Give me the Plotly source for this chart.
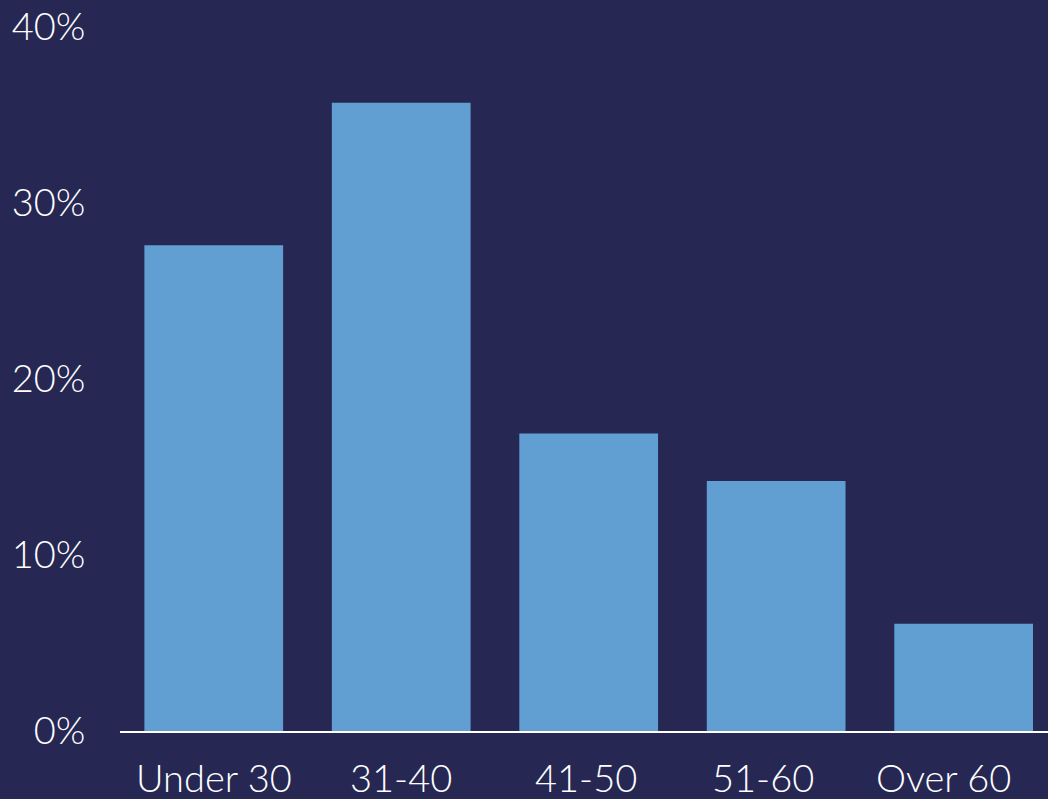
import plotly.graph_objects as go

categories = ["Under 30", "31-40", "41-50", "51-60", "Over 60"]
shares = [27.6, 35.7, 16.9, 14.2, 6.1]
y_ticks = [0, 10, 20, 30, 40]

BG = "#262853"
BAR = "#619ED2"
TXT = "#FFFFFF"
FONT = "Lato, 'Noto Sans', sans-serif"
FS = 38
label_xshift = [0, 0, -3, -13, -20]

fig = go.Figure(
    go.Bar(
        x=categories,
        y=shares,
        marker=dict(color=BAR, line=dict(width=0)),
        hoverinfo="skip",
    )
)

fig.update_layout(
    width=1048,
    height=799,
    paper_bgcolor=BG,
    plot_bgcolor=BG,
    margin=dict(l=120, r=0, t=27, b=68, autoexpand=False),
    bargap=0.26,
    showlegend=False,
    font=dict(family=FONT, color=TXT, size=FS, weight=300),
)

fig.update_xaxes(
    range=[-0.5, 4.45],
    showgrid=False,
    showline=True,
    linecolor=TXT,
    linewidth=2,
    showticklabels=False,
    ticks="",
    zeroline=False,
    automargin=False,
)

fig.update_yaxes(
    range=[0, 40],
    tickvals=y_ticks,
    ticktext=[f"{v}%" for v in y_ticks],
    showgrid=False,
    showline=False,
    zeroline=False,
    ticks="outside",
    ticklen=26,
    tickcolor="rgba(0,0,0,0)",
    tickfont=dict(size=FS, color=TXT, family=FONT, weight=300),
    automargin=False,
)

for cat, dx in zip(categories, label_xshift):
    fig.add_annotation(
        x=cat,
        y=0,
        xref="x",
        yref="y",
        text=cat,
        showarrow=False,
        xanchor="center",
        yanchor="middle",
        xshift=dx,
        yshift=-46,
        font=dict(size=FS, color=TXT, family=FONT, weight=300),
    )

fig.write_html(
    "out.html",
    config={"displayModeBar": False},
    post_script="document.body.style.margin='0';document.body.style.background='#262853';",
)
